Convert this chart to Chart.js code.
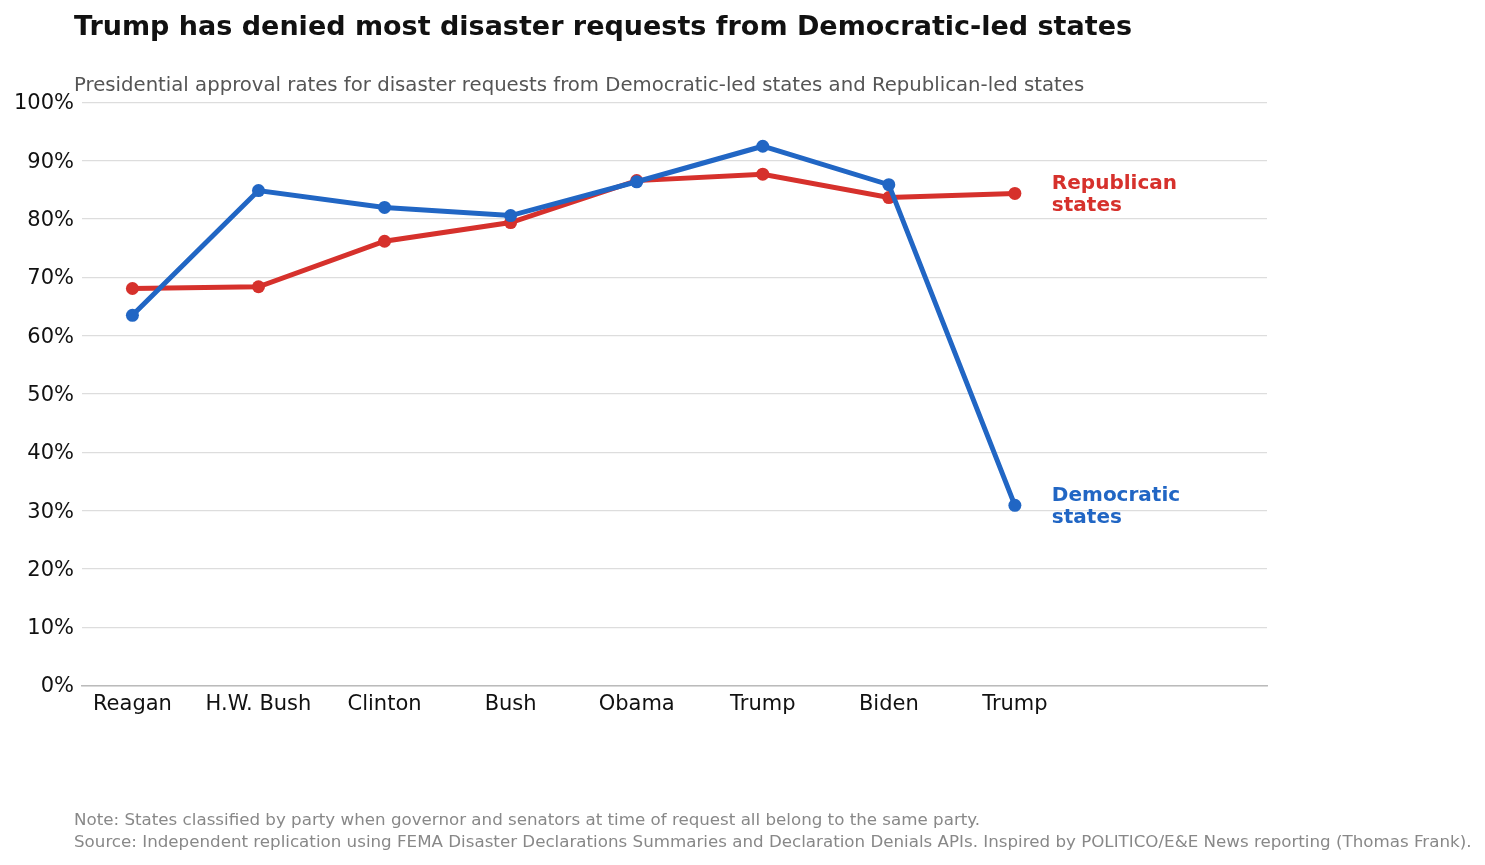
<!DOCTYPE html>
<html>
<head>
<meta charset="utf-8">
<script src="https://cdn.jsdelivr.net/npm/chart.js@4.4.1/dist/chart.umd.min.js"></script>
<style>
  html, body { margin: 0; padding: 0; background: #fff; }
  body { width: 1485px; height: 865px; position: relative; overflow: hidden; font-family: "DejaVu Sans", sans-serif; }
  #wrap { position: absolute; left: 0; top: 0; width: 1485px; height: 865px; }
  .txt { position: absolute; left: 74px; white-space: nowrap; }
  #title { top: 10px; font-size: 27px; font-weight: bold; color: #111; }
  #subtitle { top: 73px; font-size: 19.7px; color: #555; }
  .note { font-size: 16.7px; color: #888; }
</style>
</head>
<body>
<div id="wrap"><canvas id="chart" width="1485" height="865"></canvas></div>
<div class="txt" id="title">Trump has denied most disaster requests from Democratic-led states</div>
<div class="txt" id="subtitle">Presidential approval rates for disaster requests from Democratic-led states and Republican-led states</div>
<div class="txt note" style="top:809px">Note: States classified by party when governor and senators at time of request all belong to the same party.</div>
<div class="txt note" style="top:831px">Source: Independent replication using FEMA Disaster Declarations Summaries and Declaration Denials APIs. Inspired by POLITICO/E&amp;E News reporting (Thomas Frank).</div>
<script>
// Data
const presidents = ['Reagan', 'H.W. Bush', 'Clinton', 'Bush', 'Obama', 'Trump', 'Biden', 'Trump'];
const democraticRates = [63.5, 84.9, 82.0, 80.6, 86.4, 92.5, 85.9, 30.9];
const republicanRates = [68.1, 68.4, 76.2, 79.4, 86.6, 87.7, 83.7, 84.4];
const yTicks = [0, 10, 20, 30, 40, 50, 60, 70, 80, 90, 100];

const BLUE = '#2166c4';
const RED = '#d6312c';

const toPoints = arr => arr.map((v, i) => ({ x: i, y: v }));

// End-of-line labels
const endLabels = {
  id: 'endLabels',
  afterDatasetsDraw(chart) {
    const ctx = chart.ctx;
    chart.data.datasets.forEach((ds, i) => {
      const meta = chart.getDatasetMeta(i);
      const last = meta.data[meta.data.length - 1];
      ctx.save();
      ctx.font = 'bold 20px "DejaVu Sans"';
      ctx.fillStyle = ds.borderColor;
      ctx.textAlign = 'left';
      ctx.textBaseline = 'middle';
      const lines = ds.endLabel;
      lines.forEach((line, k) => {
        ctx.fillText(line, last.x + 37, last.y + 1 + (k - (lines.length - 1) / 2) * 22);
      });
      ctx.restore();
    });
  }
};

new Chart(document.getElementById('chart').getContext('2d'), {
  type: 'line',
  data: {
    datasets: [
      {
        label: 'Democratic states',
        endLabel: ['Democratic', 'states'],
        data: toPoints(democraticRates),
        borderColor: BLUE,
        backgroundColor: BLUE,
        borderWidth: 5,
        pointRadius: 6.5,
        pointBorderWidth: 0,
        pointHoverRadius: 6.5,
        order: 1
      },
      {
        label: 'Republican states',
        endLabel: ['Republican', 'states'],
        data: toPoints(republicanRates),
        borderColor: RED,
        backgroundColor: RED,
        borderWidth: 5,
        pointRadius: 6.5,
        pointBorderWidth: 0,
        pointHoverRadius: 6.5,
        order: 2
      }
    ]
  },
  options: {
    responsive: false,
    animation: false,
    layout: { padding: { left: 0, right: 218, top: 102.5, bottom: 0 } },
    plugins: {
      legend: { display: false },
      tooltip: { enabled: false }
    },
    scales: {
      x: {
        type: 'linear',
        min: -0.4,
        max: 9.0,
        afterBuildTicks(scale) {
          scale.ticks = presidents.map((p, i) => ({ value: i }));
        },
        afterFit(scale) { scale.height = 179.5; },
        grid: { display: false, drawTicks: false },
        border: { display: true, color: '#bbbbbb', width: 1.5 },
        ticks: {
          autoSkip: false,
          maxRotation: 0,
          padding: 6,
          color: '#111',
          font: { family: 'DejaVu Sans', size: 21 },
          callback: v => presidents[v] || ''
        }
      },
      y: {
        min: 0,
        max: 100,
        afterBuildTicks(scale) {
          scale.ticks = yTicks.map(v => ({ value: v }));
        },
        afterFit(scale) { scale.width = 82; },
        grid: { color: '#dddddd', lineWidth: 1.2, drawTicks: false },
        border: { display: false },
        ticks: {
          padding: 8,
          labelOffset: 1.5,
          color: '#111',
          font: { family: 'DejaVu Sans', size: 21 },
          callback: v => v + '%'
        }
      }
    }
  },
  plugins: [endLabels]
});
</script>
</body>
</html>
